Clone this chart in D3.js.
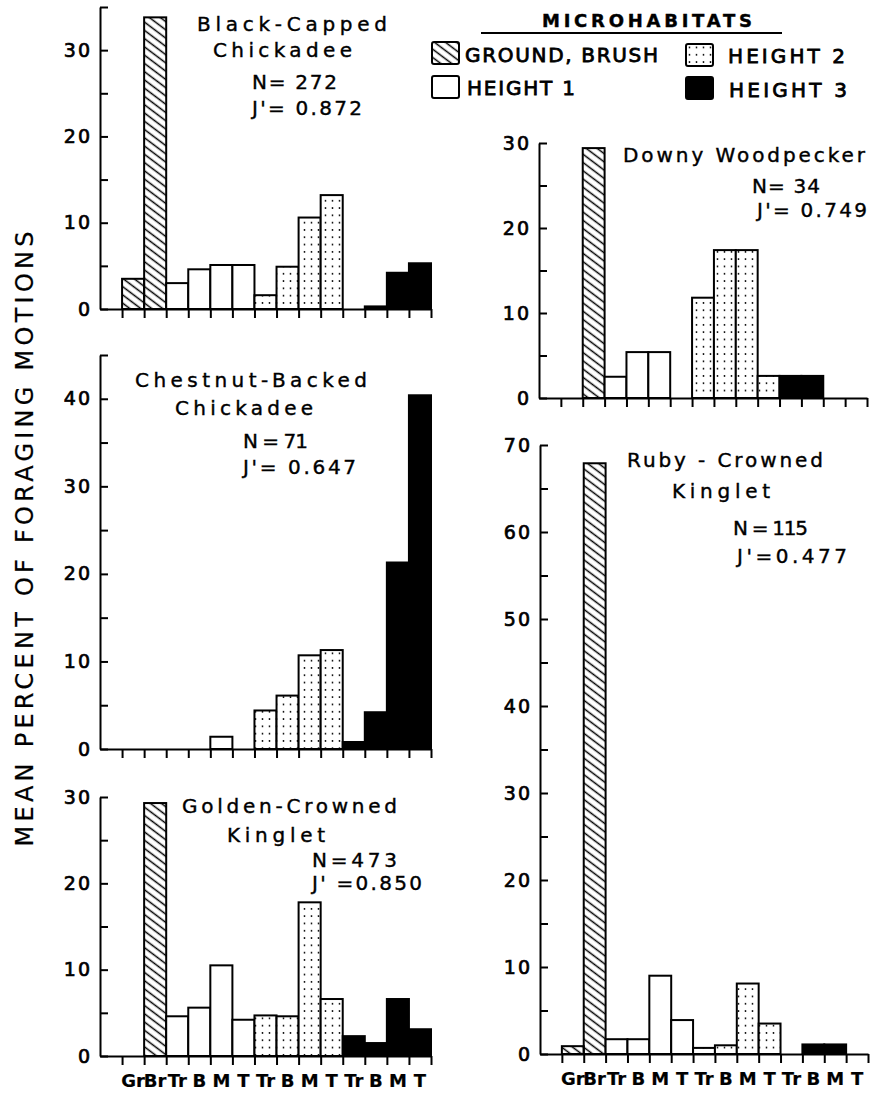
<!DOCTYPE html>
<html lang="en">
<head>
<meta charset="UTF-8">
<title>Foraging microhabitats</title>
<script src="https://d3js.org/d3.v7.min.js"></script>
<style>
    body { margin: 0; background: #fff; }
    svg text { font-family: "DejaVu Sans", "Liberation Sans", sans-serif; fill: #000; stroke: #000; stroke-width: 0.4px; }
</style>
</head>
<body>
<div id="chart"></div>
<script>
// categories along the x axis: ground, brush, then trunk/bottom/middle/top for each height
const categories = ["Gr", "Br", "Tr", "B", "M", "T", "Tr", "B", "M", "T", "Tr", "B", "M", "T"];
const microhabitat = ["ground", "ground", "h1", "h1", "h1", "h1", "h2", "h2", "h2", "h2", "h3", "h3", "h3", "h3"];

// mean percent of foraging motions per category
const blackCapped    = [3.5, 33.8, 3.0, 4.6, 5.1, 5.1, 1.6, 4.9, 10.6, 13.2, 0, 0.3, 4.2, 5.3];
const chestnutBacked = [0, 0, 0, 0, 1.4, 0, 4.4, 6.1, 10.7, 11.3, 0.8, 4.2, 21.3, 40.4];
const goldenCrowned  = [0, 29.3, 4.6, 5.6, 10.5, 4.2, 4.7, 4.6, 17.8, 6.6, 2.3, 1.5, 6.6, 3.1];
const downy          = [0, 29.4, 2.5, 5.4, 5.4, 0, 11.8, 17.4, 17.4, 2.6, 2.6, 2.6, 0, 0];
const rubyCrowned    = [0.9, 67.9, 1.7, 1.7, 9.0, 3.9, 0.7, 1.0, 8.1, 3.5, 0, 1.1, 1.1, 0];

const legendKeys = ["ground", "h1", "h2", "h3"];
const legendLabels = ["GROUND, BRUSH", "HEIGHT 1", "HEIGHT 2", "HEIGHT 3"];

// layout: pixel box of each panel and where its texts sit ([text, x, baseline, width])
const panels = [
    { values: blackCapped, yMax: 35, left: 100, right: 431, base: 309, top: 7, xLabels: false,
      texts: [["Black-Capped", 197, 31, 190], ["Chickadee", 213, 57, 139], ["N= 272", 252, 89, 85], ["J'= 0.872", 252, 115, 110]] },
    { values: chestnutBacked, yMax: 45, left: 100, right: 431, base: 749, top: 355, xLabels: false,
      texts: [["Chestnut-Backed", 135, 387, 232], ["Chickadee", 175, 415, 138], ["N = 71", 243, 448, 65], ["J'= 0.647", 243, 474, 113]] },
    { values: goldenCrowned, yMax: 30, left: 100, right: 431, base: 1056, top: 797, xLabels: true, labelY: 1087,
      texts: [["Golden-Crowned", 182, 813, 215], ["Kinglet", 227, 842, 98], ["N=473", 312, 867, 85], ["J' =0.850", 312, 890, 110]] },
    { values: downy, yMax: 30, left: 539, right: 867, base: 398, top: 143, xLabels: false,
      texts: [["Downy Woodpecker", 623, 162, 242], ["N= 34", 752, 193, 68], ["J'= 0.749", 757, 217, 110]] },
    { values: rubyCrowned, yMax: 70, left: 540, right: 868, base: 1054, top: 445, xLabels: true, labelY: 1085,
      texts: [["Ruby - Crowned", 627, 467, 196], ["Kinglet", 672, 498, 98], ["N = 115", 733, 535, 75], ["J'=0.477", 737, 563, 110]] }
];

const svg = d3.select("#chart").append("svg")
    .attr("width", 875)
    .attr("height", 1094);

// fill patterns
const defs = svg.append("defs");
defs.append("pattern")
    .attr("id", "hatch")
    .attr("patternUnits", "userSpaceOnUse")
    .attr("width", 10).attr("height", 6.6)
    .attr("patternTransform", "rotate(37)")
    .append("line")
    .attr("x1", 0).attr("x2", 10).attr("y1", 3.3).attr("y2", 3.3)
    .attr("stroke", "#000").attr("stroke-width", 1.5);

const dots = defs.append("pattern")
    .attr("id", "dots")
    .attr("patternUnits", "userSpaceOnUse")
    .attr("width", 7).attr("height", 7.3);
dots.append("rect").attr("width", 7).attr("height", 7.3).attr("fill", "#fff");
dots.append("circle").attr("cx", 3.5).attr("cy", 3.6).attr("r", 0.9).attr("fill", "#000");

const fillFor = { ground: "url(#hatch)", h1: "#fff", h2: "url(#dots)", h3: "#000" };

function fitText(g, str, x, y, w, size) {
    return g.append("text")
        .attr("x", x).attr("y", y)
        .attr("font-size", size)
        .attr("textLength", w)
        .attr("lengthAdjust", "spacing")
        .text(str);
}

panels.forEach(p => {
    const g = svg.append("g");

    const x = d3.scaleLinear().domain([0, categories.length + 1]).range([p.left, p.right]);
    const y = d3.scaleLinear().domain([0, p.yMax]).range([p.base, p.top]);

    // bars
    g.selectAll("rect.bar")
        .data(p.values.map((v, i) => ({ v, i })).filter(d => d.v > 0))
        .join("rect")
        .attr("class", "bar")
        .attr("x", d => x(d.i + 1))
        .attr("width", d => x(d.i + 2) - x(d.i + 1))
        .attr("y", d => y(d.v))
        .attr("height", d => y(0) - y(d.v))
        .attr("fill", d => fillFor[microhabitat[d.i]])
        .attr("stroke", "#000")
        .attr("stroke-width", 2);

    // x axis
    const xAxis = g.append("g")
        .attr("transform", `translate(0,${p.base})`)
        .call(d3.axisBottom(x)
            .tickValues(d3.range(1, categories.length + 2))
            .tickSize(9)
            .tickSizeOuter(0)
            .tickFormat(""));

    // y axis: ticks point inward, labels every 10
    const yAxis = g.append("g")
        .attr("transform", `translate(${p.left},0)`)
        .call(d3.axisLeft(y)
            .tickValues(d3.range(0, p.yMax + 1, 5))
            .tickSizeInner(-8)
            .tickSizeOuter(0)
            .tickPadding(8)
            .tickFormat(d => d % 10 === 0 ? d : ""));

    [xAxis, yAxis].forEach(a => {
        a.select(".domain").attr("stroke-width", 2);
        a.selectAll(".tick line").attr("stroke-width", 2);
    });
    yAxis.selectAll(".tick text")
        .attr("font-size", 19)
        .attr("letter-spacing", 2)
        .style("font-family", "'DejaVu Sans', sans-serif")
        .style("stroke-width", "0.7px");

    if (p.xLabels) {
        g.selectAll("text.cat")
            .data(categories)
            .join("text")
            .attr("class", "cat")
            .attr("x", (d, i) => (x(i + 1) + x(i + 2)) / 2)
            .attr("y", p.labelY)
            .attr("text-anchor", "middle")
            .attr("font-size", 18)
            .attr("font-weight", "bold")
            .style("stroke-width", "0.2px")
            .text(d => d);
    }

    p.texts.forEach(t => fitText(g, t[0], t[1], t[2], t[3], 20));
});

// legend
const legend = svg.append("g");
fitText(legend, "MICROHABITATS", 542, 27, 210, 18).attr("font-weight", "bold");
legend.append("line")
    .attr("x1", 481).attr("x2", 782).attr("y1", 33).attr("y2", 33)
    .attr("stroke", "#000").attr("stroke-width", 2);

const legendPos = [[432, 42, 465, 62, 193], [432, 76, 467, 95, 108], [686, 44, 728, 63, 117], [686, 77, 729, 97, 118]];
legendKeys.forEach((k, i) => {
    const pos = legendPos[i];
    legend.append("rect")
        .attr("x", pos[0]).attr("y", pos[1])
        .attr("width", 27).attr("height", 22)
        .attr("rx", 2)
        .attr("fill", fillFor[k])
        .attr("stroke", "#000").attr("stroke-width", 2);
    fitText(legend, legendLabels[i], pos[2], pos[3], pos[4], 20).style("stroke-width", "0.8px");
});

// shared y axis title
svg.append("text")
    .attr("transform", "translate(33,539) rotate(-90)")
    .attr("text-anchor", "middle")
    .attr("font-size", 24)
    .attr("textLength", 615)
    .attr("lengthAdjust", "spacing")
    .style("stroke-width", "0.2px")
    .text("MEAN PERCENT OF FORAGING MOTIONS");
</script>
</body>
</html>
